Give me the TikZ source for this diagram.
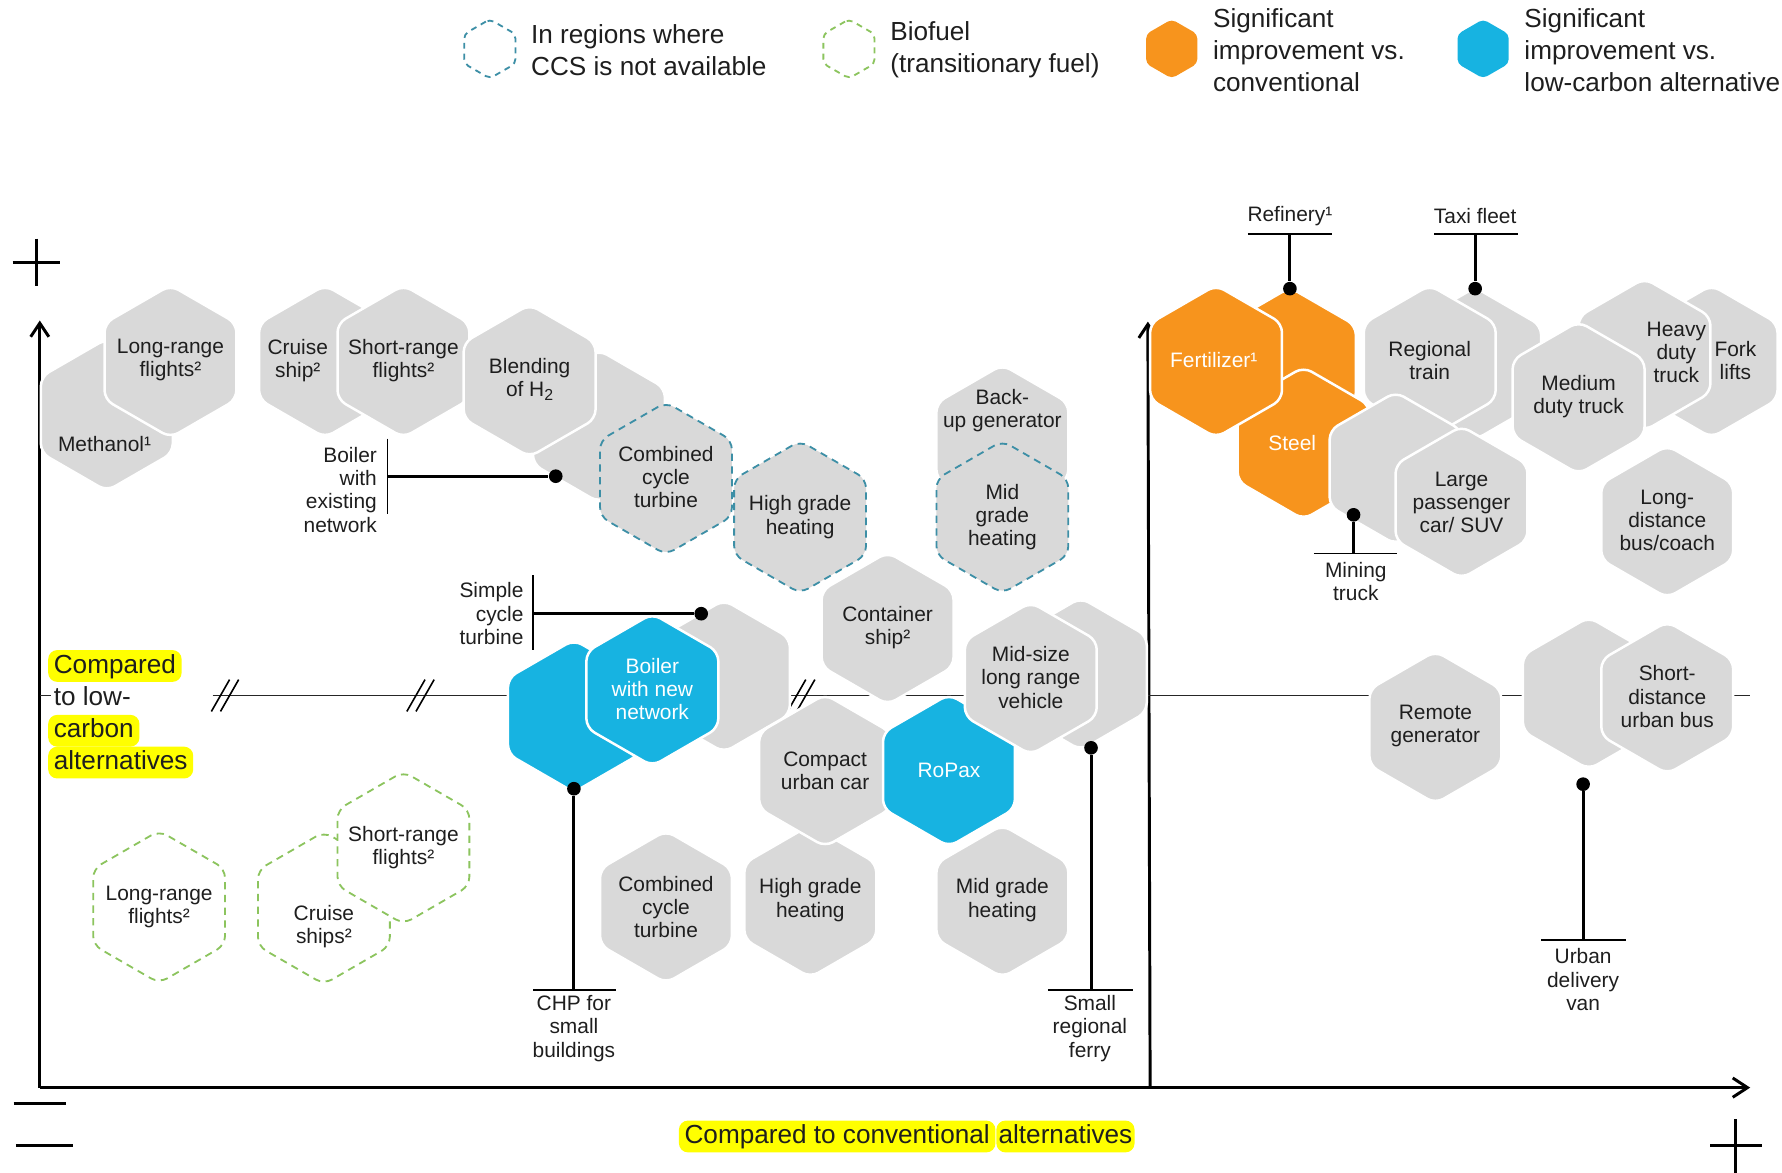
\documentclass[tikz,border=0pt]{standalone}
\usepackage{fontspec}
\setmainfont{Liberation Sans}
\usetikzlibrary{shapes.geometric,arrows.meta}
\definecolor{hgray}{HTML}{D9D9D9}
\definecolor{horange}{HTML}{F7941D}
\definecolor{hblue}{HTML}{17B3E1}
\definecolor{ccsblue}{HTML}{3D8FA6}
\definecolor{biogreen}{HTML}{8CC45E}
\definecolor{hlyellow}{HTML}{FFFF00}
\definecolor{txt}{HTML}{1E1E1E}
\newcommand{\subtwo}{\raisebox{-0.35ex}{\fontsize{7}{7}\selectfont 2}}
\begin{document}
\begin{tikzpicture}[x=0.5pt,y=-0.5pt,
  hexbase/.style={regular polygon, regular polygon sides=6, shape border rotate=30,
    minimum size=67pt, inner sep=0pt, outer sep=0pt, rounded corners=4pt, line width=1.1pt},
  hexg/.style={hexbase, fill=hgray, draw=white},
  hexo/.style={hexbase, fill=horange, draw=white},
  hexb/.style={hexbase, fill=hblue, draw=white},
  hexccs/.style={hexbase, fill=hgray, draw=ccsblue, line width=0.8pt, dash pattern=on 3.2pt off 2.4pt},
  hexbio/.style={hexbase, fill=white, draw=biogreen, line width=0.8pt, dash pattern=on 3.2pt off 2.4pt},
  hlab/.style={font=\fontsize{9.2}{10.2}\selectfont, text=txt, align=center, inner sep=0pt},
  wlab/.style={hlab, text=white},
  big/.style={font=\fontsize{11.5}{14}\selectfont, text=txt, inner sep=0pt, align=left},
  plain/.style={big, inner xsep=2.5pt, inner ysep=1.5pt, text height=8.6pt, text depth=2.4pt},
  hl/.style={plain, fill=hlyellow, rounded corners=4pt},
  axis/.style={line width=1.3pt, draw=black},
  midline/.style={line width=0.75pt, draw=black!85},
  callout/.style={line width=1.3pt, draw=black},
  bar/.style={line width=0.8pt, draw=black},
  dot/.style={circle, fill=black, minimum size=6pt, inner sep=0pt},
  sign/.style={line width=1.5pt, draw=black},
  brk/.style={line width=0.7pt, draw=black}
]
\useasboundingbox (0,0) rectangle (1568,1032);

% ---------------- legend ----------------
\node[hexbase, minimum size=26pt, rounded corners=2pt, fill=white, draw=ccsblue, line width=0.8pt, dash pattern=on 2.6pt off 2.2pt] (lgccs) at (431,43) {};
\node[big, anchor=west] (ltccs) at (467,44) {In regions where\\CCS is not available};
\node[hexbase, minimum size=26pt, rounded corners=2pt, fill=white, draw=biogreen, line width=0.8pt, dash pattern=on 2.6pt off 2.2pt] (lgbio) at (747,43) {};
\node[big, anchor=west] (ltbio) at (783,44) {Biofuel\\(transitionary fuel)};
\node[hexbase, minimum size=26pt, rounded corners=2pt, fill=horange, draw=none] (lgor) at (1031,43) {};
\node[big, anchor=west] (ltor) at (1067,44) {Significant\\improvement vs.\\conventional};
\node[hexbase, minimum size=26pt, rounded corners=2pt, fill=hblue, draw=none] (lgbl) at (1305,43) {};
\node[big, anchor=west] (ltbl) at (1341,44) {Significant\\improvement vs.\\low-carbon alternative};

% ---------------- axes ----------------
\coordinate (O) at (35,957);
\coordinate (Ytop) at (35,282);
\coordinate (Xend) at (1540,957);
\coordinate (D0) at (1012,957);
\coordinate (D1) at (1010,283);
\draw[axis, -{Straight Barb[length=6pt,width=8pt]}] (O) -- (Ytop);
\draw[axis, -{Straight Barb[length=6.5pt,width=8.5pt]}] (O) -- (Xend);
\draw[axis, -{Straight Barb[length=6pt,width=8pt]}] (D0) -- (D1);

% plus / minus signs
\draw[sign] (11,231) -- (53,231);
\draw[sign] (32,210) -- (32,252);
\draw[sign] (12,971) -- (58,971);
\draw[sign] (14,1008) -- (64,1008);
\draw[sign] (1505,1008) -- (1550,1008);
\draw[sign] (1527,985) -- (1527,1032);

% middle reference line with breaks
\coordinate (M0) at (35,612);
\coordinate (M1) at (45,612);
\coordinate (M2) at (187,612);
\coordinate (M3) at (1540,612);
\draw[midline] (M0) -- (M1);
\draw[midline] (M2) -- (M3);
\foreach \bx in {198,370,705}{
  \draw[brk] (\bx-12,626) -- (\bx+4,598);
  \draw[brk] (\bx-4,626) -- (\bx+12,598);
}

% axis titles
\node[hl, anchor=west] (ct1) at (42,586) {Compared};
\node[plain, anchor=west] (ct2) at (42,615) {to low-};
\node[hl, anchor=west] (ct3) at (42,643) {carbon};
\node[hl, anchor=west] (ct4) at (42,671) {alternatives};
\node[hl, anchor=west] (bt1) at (597,1000) {Compared to conventional};
\node[hl, anchor=west, inner xsep=1pt] (bt2) at (bt1.east) {alternatives};

% ---------------- top-left cluster ----------------
\node[hexg] (hmeth) at (94,365) {};
\node[hexg] (hlrf) at (150,318) {};
\node[hexg] (hcruise) at (286,318) {};
\node[hexg] (hsrf) at (355,318) {};
\node[hexg] (hboilex) at (527,375) {};
\node[hexg] (hblend) at (466,335) {};
\node[hexccs] (hcct1) at (586,421) {};
\node[hexg] (hbackup) at (882,388) {};
\node[hexccs] (hmgh1) at (882,455) {};
\node[hexg] (hcont) at (781,553) {};
\node[hexccs] (hhgh1) at (704,455) {};

\node[hlab] (tmeth) at (92,391) {Methanol¹};
\node[hlab] (tlrf) at (150,317) {Long-range\\flights²};
\node[hlab] (tcruise) at (262,317) {Cruise\\ship²};
\node[hlab] (tsrf) at (355,317) {Short-range\\flights²};
\node[hlab] (tblend) at (466,334) {Blending\\of H\subtwo};
\node[hlab] (tcct1) at (586,420) {Combined\\cycle\\turbine};
\node[hlab] (thgh1) at (704,455) {High grade\\heating};
\node[hlab] (tbackup) at (882,361) {Back-\\up generator};
\node[hlab] (tmgh1) at (882,455) {Mid\\grade\\heating};
\node[hlab] (tcont) at (781,552) {Container\\ship²};

% ---------------- middle cluster ----------------
\node[hexb] (hchp) at (505,630) {};
\node[hexg] (hsimple) at (637,595) {};
\node[hexb] (hboilnew) at (574,607) {};
\node[hexg] (hcct2) at (586,798) {};
\node[hexg] (hhgh2) at (713,793) {};
\node[hexg] (hcompact) at (726,678) {};
\node[hexg] (hmgh2) at (882,793) {};
\node[hexb] (hropax) at (835,678) {};
\node[hexg] (hferry) at (951,593) {};
\node[hexg] (hmidsize) at (907,597) {};

\node[wlab] (tboilnew) at (574,606) {Boiler\\with new\\network};
\node[hlab] (tcct2) at (586,798) {Combined\\cycle\\turbine};
\node[hlab] (thgh2) at (713,792) {High grade\\heating};
\node[hlab] (tcompact) at (726,678) {Compact\\urban car};
\node[hlab] (tmgh2) at (882,792) {Mid grade\\heating};
\node[wlab] (tropax) at (835,678) {RoPax};
\node[hlab] (tmidsize) at (907,596) {Mid-size\\long range\\vehicle};

% ---------------- biofuel ----------------
\node[hexbio] (hblrf) at (140,798) {};
\node[hexbio] (hbcruise) at (285,799) {};
\node[hexbio] (hbsrf) at (355,746) {};
\node[hlab] (tblrf) at (140,798) {Long-range\\flights²};
\node[hlab] (tbcruise) at (285,815) {Cruise\\ships²};
\node[hlab] (tbsrf) at (355,746) {Short-range\\flights²};

% ---------------- right cluster ----------------
\node[hexg] (htaxi) at (1298,320) {};
\node[hexg] (hregional) at (1258,318) {};
\node[hexo] (hrefinery) at (1135,320) {};
\node[hexo] (hsteel) at (1147,390) {};
\node[hexo] (hfert) at (1070,318) {};
\node[hexg] (hmining) at (1228,412) {};
\node[hexg] (hlarge) at (1286,442) {};
\node[hexg] (hfork) at (1506,318) {};
\node[hexg] (hheavy) at (1447,312) {};
\node[hexg] (hmedium) at (1389,350) {};
\node[hexg] (hlongbus) at (1467,459) {};
\node[hexg] (hremote) at (1263,640) {};
\node[hexg] (hvan) at (1398,610) {};
\node[hexg] (hshortbus) at (1467,614) {};

\node[hlab] (tregional) at (1258,317) {Regional\\train};
\node[wlab] (tsteel) at (1137,390) {Steel};
\node[wlab] (tfert) at (1068,317) {Fertilizer¹};
\node[hlab] (tlarge) at (1286,442) {Large\\passenger\\car/ SUV};
\node[hlab] (tfork) at (1527,317) {Fork\\lifts};
\node[hlab] (theavy) at (1475,310) {Heavy\\duty\\truck};
\node[hlab] (tmedium) at (1389,349) {Medium\\duty truck};
\node[hlab] (tlongbus) at (1467,458) {Long-\\distance\\bus/coach};
\node[hlab] (tremote) at (1263,639) {Remote\\generator};
\node[hlab] (tshortbus) at (1467,613) {Short-\\distance\\urban bus};

% ---------------- callouts ----------------
% Refinery
\node[hlab] (lrefinery) at (1135,190) {Refinery¹};
\coordinate (brefL) at (1098,206); \coordinate (brefR) at (1172,206); \coordinate (brefM) at (1135,206);
\node[dot] (drefinery) at (1135,254) {};
\draw[bar] (brefL) -- (brefR);
\draw[callout] (brefM) -- (drefinery);
% Taxi fleet
\node[hlab] (ltaxi) at (1298,190) {Taxi fleet};
\coordinate (btaxL) at (1262,206); \coordinate (btaxR) at (1336,206); \coordinate (btaxM) at (1298,206);
\node[dot] (dtaxi) at (1298,254) {};
\draw[bar] (btaxL) -- (btaxR);
\draw[callout] (btaxM) -- (dtaxi);
% Boiler with existing network
\node[hlab, align=right, anchor=east] (lboilex) at (332,431) {Boiler\\with\\existing\\network};
\coordinate (bbeT) at (341,386); \coordinate (bbeB) at (341,452); \coordinate (bbeM) at (341,419);
\node[dot] (dboilex) at (489,419) {};
\draw[bar] (bbeT) -- (bbeB);
\draw[callout] (bbeM) -- (dboilex);
% Simple cycle turbine
\node[hlab, align=right, anchor=east] (lsimple) at (461,540) {Simple\\cycle\\turbine};
\coordinate (bscT) at (469,506); \coordinate (bscB) at (469,572); \coordinate (bscM) at (469,540);
\node[dot] (dsimple) at (617,540) {};
\draw[bar] (bscT) -- (bscB);
\draw[callout] (bscM) -- (dsimple);
% CHP for small buildings
\node[hlab] (lchp) at (505,905) {CHP for\\small\\buildings};
\coordinate (bchL) at (469,871); \coordinate (bchR) at (542,871); \coordinate (bchM) at (505,871);
\node[dot] (dchp) at (505,694) {};
\draw[bar] (bchL) -- (bchR);
\draw[callout] (dchp) -- (bchM);
% Small regional ferry
\node[hlab] (lferry) at (959,905) {Small\\regional\\ferry};
\coordinate (bfeL) at (922,871); \coordinate (bfeR) at (997,871); \coordinate (bfeM) at (960,871);
\node[dot] (dferry) at (960,658) {};
\draw[bar] (bfeL) -- (bfeR);
\draw[callout] (dferry) -- (bfeM);
% Mining truck
\node[hlab] (lmining) at (1193,512) {Mining\\truck};
\coordinate (bmiL) at (1156,487); \coordinate (bmiR) at (1229,487); \coordinate (bmiM) at (1191,487);
\node[dot] (dmining) at (1191,453) {};
\draw[bar] (bmiL) -- (bmiR);
\draw[callout] (dmining) -- (bmiM);
% Urban delivery van
\node[hlab] (lvan) at (1393,862) {Urban\\delivery\\van};
\coordinate (bvaL) at (1356,827); \coordinate (bvaR) at (1431,827); \coordinate (bvaM) at (1393,827);
\node[dot] (dvan) at (1393,690) {};
\draw[bar] (bvaL) -- (bvaR);
\draw[callout] (dvan) -- (bvaM);
\end{tikzpicture}
\end{document}
